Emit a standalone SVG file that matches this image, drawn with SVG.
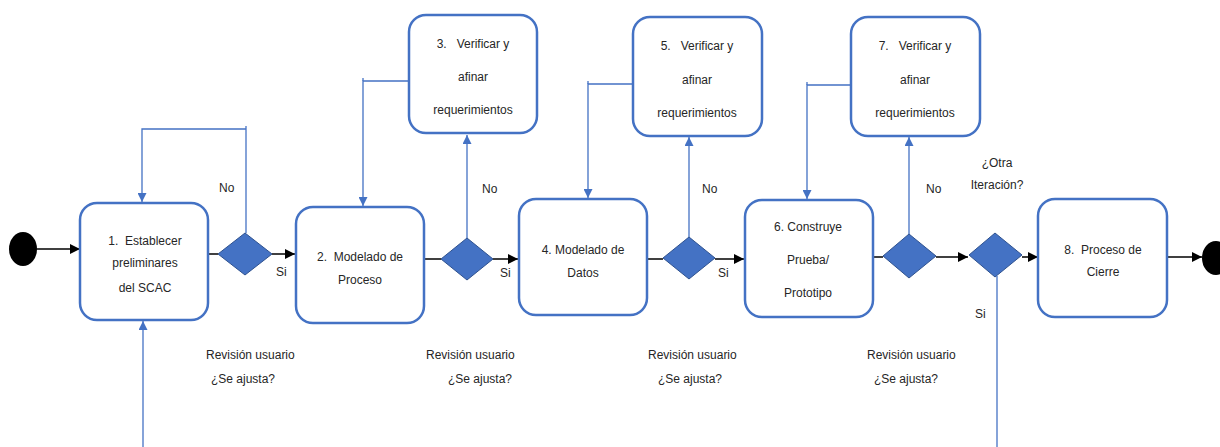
<svg xmlns="http://www.w3.org/2000/svg" width="1220" height="447" viewBox="0 0 1220 447" xml:space="preserve">
  <style>
    text { font-family: "Liberation Sans", Arial, sans-serif; font-size: 12px; fill: #262626; white-space: pre; }
    .c { text-anchor: middle; }
    .box { fill: #ffffff; stroke: #4472C4; stroke-width: 2.5; }
    .dec { fill: #4472C4; stroke: #2F528F; stroke-width: 1; }
    .flow { fill: none; stroke: #000000; stroke-width: 1.5; }
    .back { fill: none; stroke: #4472C4; stroke-width: 1.3; }
    .term { fill: #000000; }
  </style>
  <defs>
    <marker id="ah-black" viewBox="0 0 10 10" refX="10" refY="5" markerWidth="10" markerHeight="10" markerUnits="userSpaceOnUse" orient="auto">
      <path d="M0,0 L10,5 L0,10 Z" fill="#000000"/>
    </marker>
    <marker id="ah-blue" viewBox="0 0 10 10" refX="10" refY="5" markerWidth="11" markerHeight="9" markerUnits="userSpaceOnUse" orient="auto">
      <path d="M0,0 L10,5 L0,10 Z" fill="#4472C4"/>
    </marker>
  </defs>

  <!-- connectors -->
  <g id="connectors">
    <!-- main flow -->
    <line class="flow" x1="37" y1="249" x2="80" y2="249" marker-end="url(#ah-black)"/>
    <line class="flow" x1="208" y1="254" x2="218" y2="254"/>
    <line class="flow" x1="272" y1="254" x2="295" y2="254" marker-end="url(#ah-black)"/>
    <line class="flow" x1="424" y1="259" x2="441" y2="259"/>
    <line class="flow" x1="493" y1="259" x2="518" y2="259" marker-end="url(#ah-black)"/>
    <line class="flow" x1="647" y1="259" x2="663" y2="259"/>
    <line class="flow" x1="715" y1="259" x2="744" y2="259" marker-end="url(#ah-black)"/>
    <line class="flow" x1="873" y1="257" x2="883" y2="257"/>
    <line class="flow" x1="936" y1="257" x2="968" y2="257" marker-end="url(#ah-black)"/>
    <line class="flow" x1="1022" y1="257" x2="1038" y2="257" marker-end="url(#ah-black)"/>
    <line class="flow" x1="1167" y1="257" x2="1202" y2="257" marker-end="url(#ah-black)"/>

    <!-- "No" branches to verification -->
    <polyline class="back" points="246,233 246,126"/>
    <polyline class="back" points="246,129 142,129 142,202" marker-end="url(#ah-blue)"/>
    <line class="back" x1="467" y1="238" x2="467" y2="135" marker-end="url(#ah-blue)"/>
    <line class="back" x1="689" y1="237" x2="689" y2="137" marker-end="url(#ah-blue)"/>
    <line class="back" x1="909" y1="234" x2="909" y2="137" marker-end="url(#ah-blue)"/>

    <!-- return from verification to the modelling step -->
    <polyline class="back" points="409,81 363,81 363,206" marker-end="url(#ah-blue)"/>
    <line class="back" x1="363" y1="78" x2="363" y2="81"/>
    <polyline class="back" points="633,84 588,84 588,198" marker-end="url(#ah-blue)"/>
    <line class="back" x1="588" y1="81" x2="588" y2="84"/>
    <polyline class="back" points="851,85 807,85 807,199" marker-end="url(#ah-blue)"/>
    <line class="back" x1="807" y1="82" x2="807" y2="85"/>

    <!-- new iteration -->
    <line class="back" x1="997" y1="276" x2="997" y2="447"/>
    <line class="back" x1="143" y1="447" x2="143" y2="321" marker-end="url(#ah-blue)"/>
  </g>

  <!-- terminals -->
  <g id="start">
    <ellipse class="term" cx="23" cy="249" rx="14" ry="17"/>
  </g>
  <g id="end">
    <ellipse class="term" cx="1216" cy="258" rx="14" ry="17"/>
  </g>

  <!-- activities -->
  <g id="n1">
    <rect class="box" x="80" y="203" width="128" height="117" rx="17"/>
    <text class="c" x="145" y="245">1.  Establecer</text>
    <text class="c" x="145" y="267">preliminares</text>
    <text class="c" x="145" y="292">del SCAC</text>
  </g>
  <g id="n2">
    <rect class="box" x="296" y="207" width="128" height="116" rx="17"/>
    <text class="c" x="360" y="261">2.  Modelado de</text>
    <text class="c" x="360" y="284">Proceso</text>
  </g>
  <g id="n3">
    <rect class="box" x="409" y="15" width="128" height="118" rx="17"/>
    <text class="c" x="473" y="48">3.   Verificar y</text>
    <text class="c" x="473" y="81">afinar</text>
    <text class="c" x="473" y="114">requerimientos</text>
  </g>
  <g id="n4">
    <rect class="box" x="519" y="199" width="128" height="116" rx="17"/>
    <text class="c" x="583" y="254">4. Modelado de</text>
    <text class="c" x="583" y="277">Datos</text>
  </g>
  <g id="n5">
    <rect class="box" x="633" y="17" width="129" height="119" rx="17"/>
    <text class="c" x="697" y="50">5.   Verificar y</text>
    <text class="c" x="697" y="84">afinar</text>
    <text class="c" x="697" y="117">requerimientos</text>
  </g>
  <g id="n6">
    <rect class="box" x="745" y="200" width="128" height="117" rx="17"/>
    <text class="c" x="808" y="231">6. Construye</text>
    <text class="c" x="808" y="264">Prueba/</text>
    <text class="c" x="808" y="297">Prototipo</text>
  </g>
  <g id="n7">
    <rect class="box" x="851" y="17" width="129" height="119" rx="17"/>
    <text class="c" x="915" y="50">7.   Verificar y</text>
    <text class="c" x="915" y="84">afinar</text>
    <text class="c" x="915" y="117">requerimientos</text>
  </g>
  <g id="n8">
    <rect class="box" x="1038" y="199" width="129" height="118" rx="17"/>
    <text class="c" x="1103" y="254">8.  Proceso de</text>
    <text class="c" x="1103" y="276">Cierre</text>
  </g>

  <!-- decisions -->
  <g id="d1">
    <polygon class="dec" points="218,254 245,233 272,254 245,275"/>
  </g>
  <g id="d2">
    <polygon class="dec" points="441,259 467,238 493,259 467,280"/>
  </g>
  <g id="d3">
    <polygon class="dec" points="663,258 689,237 715,258 689,279"/>
  </g>
  <g id="d4">
    <polygon class="dec" points="883,256 909,234 936,256 909,278"/>
  </g>
  <g id="d5">
    <polygon class="dec" points="969,255 995,233 1022,255 995,277"/>
  </g>

  <!-- branch labels -->
  <g id="labels">
    <text x="219" y="192">No</text>
    <text x="276" y="276">Si</text>
    <text x="482" y="193">No</text>
    <text x="500" y="277">Si</text>
    <text x="702" y="193">No</text>
    <text x="718" y="277">Si</text>
    <text x="926" y="193">No</text>
    <text class="c" x="997" y="167">¿Otra</text>
    <text class="c" x="997" y="189">Iteración?</text>
    <text x="975" y="318">Si</text>

    <text x="206" y="359">Revisión usuario</text>
    <text x="211" y="383">¿Se ajusta?</text>
    <text x="426" y="359">Revisión usuario</text>
    <text x="448" y="383">¿Se ajusta?</text>
    <text x="648" y="359">Revisión usuario</text>
    <text x="658" y="383">¿Se ajusta?</text>
    <text x="867" y="359">Revisión usuario</text>
    <text x="874" y="383">¿Se ajusta?</text>
  </g>
</svg>
